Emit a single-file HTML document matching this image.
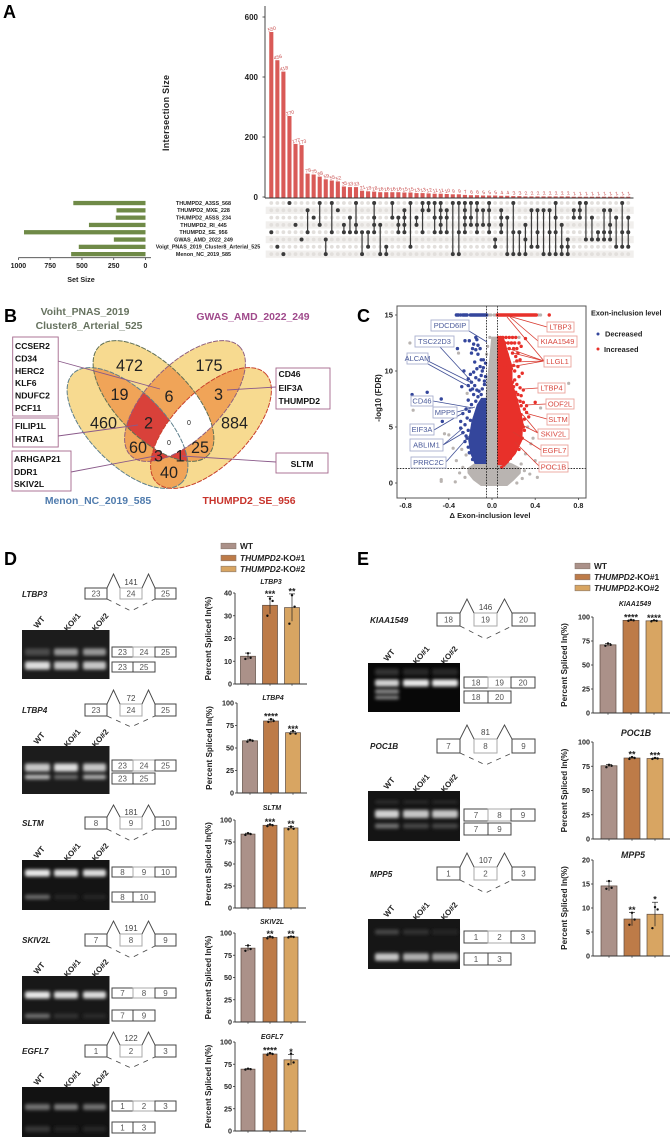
<!DOCTYPE html>
<html lang="en">
<head>
<meta charset="utf-8">
<title>Multi-panel exon inclusion figure</title>
<style>
html,body{margin:0;padding:0;background:#fff;}
svg{display:block;filter:blur(0.3px);}
text{font-family:"Liberation Sans",Arial,sans-serif;}
</style>
</head>
<body>
<svg id="fig" width="672" height="1138" viewBox="0 0 672 1138" xmlns="http://www.w3.org/2000/svg">
  <defs>
    <filter id="bandBlur" x="-30%" y="-200%" width="160%" height="500%"><feGaussianBlur stdDeviation="1.5"/></filter>
    <clipPath id="cM"><ellipse cx="127.5" cy="428" rx="77" ry="37" transform="rotate(45 127.5 428)"/></clipPath>
    <clipPath id="cV"><ellipse cx="153.5" cy="401" rx="77" ry="37" transform="rotate(45 153.5 401)"/></clipPath>
    <clipPath id="cG"><ellipse cx="185" cy="401" rx="77" ry="37" transform="rotate(-45 185 401)"/></clipPath>
    <clipPath id="cT"><ellipse cx="211" cy="428" rx="77" ry="37" transform="rotate(-45 211 428)"/></clipPath>
    <clipPath id="volcanoClip"><rect x="397" y="306" width="189" height="192"/></clipPath>
  </defs>

  <!-- Panel letters -->
  <text x="3" y="18" font-size="18" font-weight="700">A</text>
  <text x="4" y="322" font-size="18" font-weight="700">B</text>
  <text x="357" y="322" font-size="18" font-weight="700">C</text>
  <text x="4" y="565" font-size="18" font-weight="700">D</text>
  <text x="357" y="565" font-size="18" font-weight="700">E</text>

  <!-- Panel B Venn -->
  <g id="venn">
    <g fill="#f7da90">
      <ellipse cx="127.5" cy="428" rx="77" ry="37" transform="rotate(45 127.5 428)"/>
      <ellipse cx="153.5" cy="401" rx="77" ry="37" transform="rotate(45 153.5 401)"/>
      <ellipse cx="185" cy="401" rx="77" ry="37" transform="rotate(-45 185 401)"/>
      <ellipse cx="211" cy="428" rx="77" ry="37" transform="rotate(-45 211 428)"/>
    </g>
    <g fill="#f0a458">
      <g clip-path="url(#cV)"><ellipse cx="127.5" cy="428" rx="77" ry="37" transform="rotate(45 127.5 428)"/><ellipse cx="185" cy="401" rx="77" ry="37" transform="rotate(-45 185 401)"/><ellipse cx="211" cy="428" rx="77" ry="37" transform="rotate(-45 211 428)"/></g>
      <g clip-path="url(#cG)"><ellipse cx="127.5" cy="428" rx="77" ry="37" transform="rotate(45 127.5 428)"/><ellipse cx="211" cy="428" rx="77" ry="37" transform="rotate(-45 211 428)"/></g>
      <g clip-path="url(#cT)"><ellipse cx="127.5" cy="428" rx="77" ry="37" transform="rotate(45 127.5 428)"/></g>
    </g>
    <g fill="#d9413a">
      <g clip-path="url(#cV)"><g clip-path="url(#cG)"><ellipse cx="127.5" cy="428" rx="77" ry="37" transform="rotate(45 127.5 428)"/></g></g>
      <g clip-path="url(#cM)"><g clip-path="url(#cG)"><ellipse cx="211" cy="428" rx="77" ry="37" transform="rotate(-45 211 428)"/></g></g>
      <g clip-path="url(#cM)"><g clip-path="url(#cV)"><ellipse cx="211" cy="428" rx="77" ry="37" transform="rotate(-45 211 428)"/></g></g>
    </g>
    <g fill="#ffffff">
      <g clip-path="url(#cV)"><g clip-path="url(#cG)"><ellipse cx="211" cy="428" rx="77" ry="37" transform="rotate(-45 211 428)"/></g></g>
    </g>
    <g fill="none" stroke-width="1" stroke-dasharray="5 1.2">
      <ellipse cx="127.5" cy="428" rx="77" ry="37" transform="rotate(45 127.5 428)" stroke="#5d7f8c"/>
      <ellipse cx="153.5" cy="401" rx="77" ry="37" transform="rotate(45 153.5 401)" stroke="#5f6f55"/>
      <ellipse cx="185" cy="401" rx="77" ry="37" transform="rotate(-45 185 401)" stroke="#8f5f7f"/>
      <ellipse cx="211" cy="428" rx="77" ry="37" transform="rotate(-45 211 428)" stroke="#c8402c"/>
    </g>
    <g text-anchor="middle" font-size="16.2" fill="#222">
      <text x="129.5" y="371">472</text><text x="209" y="371">175</text><text x="119.5" y="400">19</text>
      <text x="169" y="402">6</text><text x="218.5" y="400">3</text><text x="103.5" y="428.5">460</text>
      <text x="148.5" y="428.5">2</text><text x="234.5" y="428.5">884</text><text x="138" y="453">60</text>
      <text x="200" y="453">25</text><text x="158.5" y="461.5">3</text><text x="180" y="461.5">1</text>
      <text x="169" y="478">40</text>
      <text x="189" y="425" font-size="7">0</text><text x="169" y="445" font-size="7">0</text>
    </g>
    <g font-size="10.4" font-weight="700" text-anchor="middle">
      <text x="85" y="315" fill="#66725f">Voiht_PNAS_2019</text>
      <text x="89" y="329" fill="#66725f">Cluster8_Arterial_525</text>
      <text x="253" y="320" fill="#a04a8c">GWAS_AMD_2022_249</text>
      <text x="98" y="504" fill="#4f7bad">Menon_NC_2019_585</text>
      <text x="249" y="504" fill="#c8342c">THUMPD2_SE_956</text>
    </g>
    <g stroke="#8a5a8a" stroke-width="0.9" fill="none">
      <line x1="58" y1="361" x2="160" y2="389"/>
      <line x1="58" y1="436" x2="138" y2="425"/>
      <line x1="71" y1="472" x2="155" y2="456"/>
      <line x1="276" y1="387" x2="227" y2="390"/>
      <line x1="276" y1="462" x2="182" y2="456"/>
    </g>
    <g fill="#fff" stroke="#a4668c" stroke-width="0.9">
      <rect x="12.7" y="337" width="45.5" height="79"/>
      <rect x="12.7" y="418" width="45.5" height="29"/>
      <rect x="12" y="451" width="59" height="40"/>
      <rect x="276" y="368" width="54" height="41"/>
      <rect x="276" y="453" width="52" height="20"/>
    </g>
    <g font-size="8.6" font-weight="700" fill="#111">
      <text x="15" y="349">CCSER2</text><text x="15" y="361.5">CD34</text><text x="15" y="374">HERC2</text>
      <text x="15" y="386">KLF6</text><text x="15" y="398.5">NDUFC2</text><text x="15" y="411">PCF11</text>
      <text x="15" y="429">FILIP1L</text><text x="15" y="442">HTRA1</text>
      <text x="14" y="462">ARHGAP21</text><text x="14" y="475">DDR1</text><text x="14" y="487">SKIV2L</text>
      <text x="278.5" y="377">CD46</text><text x="278.5" y="391">EIF3A</text><text x="278.5" y="404">THUMPD2</text>
      <text x="302" y="467" text-anchor="middle">SLTM</text>
    </g>
  </g>

  <g id="upset"></g>
  <g id="volcano"></g>
  <g id="genes"></g>
  <g id="bars"></g>
</svg>

<script>
/* ===== Panel A data ===== */
const intersectionSizes = [550,456,418,270,177,173,78,75,68,59,55,52,35,33,33,21,19,18,16,16,16,16,15,15,13,13,12,11,11,10,9,9,7,6,6,5,5,5,4,4,3,3,2,2,2,2,2,2,2,2,1,1,1,1,1,1,1,1,1,1];
const intersectionMembers = [[4],[6],[7],[0],[3],[5],[1,4],[2],[0,3],[5,7],[0,4],[1],[3,4],[2,4],[0,3,4],[4,7],[4,6],[0,2,3,4],[3,7],[6,7],[0,2],[2,3,4],[1,2,3,4],[0,6],[2,3],[0,1,4],[0,1],[0,2,4],[0,1,2,3,4],[1,2,4],[0,7],[0,4,7],[0,1,2,3,4],[0,2,3],[0,1,3,4],[1,3],[0,1,3,4],[5,6],[1,2,3,4],[2,7],[0,4,7],[4,7],[3,5,7],[1,6],[1,4,6],[1,7],[1,4,7],[0,2,4,7],[3,6,7],[5,6,7],[1,2],[0,1,2],[0,5],[2,5],[4,5],[1,4,5],[1,3,4,5],[2,6],[0,4,6],[2,4,6]];
const setNames = ["THUMPD2_A3SS_568","THUMPD2_MXE_228","THUMPD2_A5SS_234","THUMPD2_RI_445","THUMPD2_SE_956","GWAS_AMD_2022_249","Voigt_PNAS_2019_Cluster8_Arterial_525","Menon_NC_2019_585"];
const setSizes = [568,228,234,445,956,249,525,585];
const intersectionTicks = [0,200,400,600];
const setSizeTicks = [1000,750,500,250,0];

/* ===== Panel C data: [delta, -log10 FDR] ===== */
const volcanoXTicks = [-0.8,-0.4,0.0,0.4,0.8];
const volcanoYTicks = [0,5,10,15];
const grayEnvFdr = [-0.2,0.3,0.9,1.3,1.7,2.1,8,11,13];
const grayEnvLeft = [-0.1,-0.17,-0.22,-0.22,-0.16,-0.05,-0.05,-0.02,0.0];
const grayEnvRight = [0.14,0.2,0.26,0.26,0.18,0.05,0.05,0.05,0.04];
const blueEnvFdr = [1.7,2.6,3.8,5.5,7,7.6];
const blueEnvOuter = [-0.16,-0.2,-0.22,-0.19,-0.14,-0.1];
const redEnvFdr = [1.6,2.6,3.8,5.5,7,9,10.4,12,13];
const redEnvOuter = [0.13,0.22,0.28,0.29,0.25,0.19,0.19,0.14,0.11];
const grayPoints = [[-0.76,12.5],[-0.73,6.5],[0.71,8.9],[0.45,6.7],[-0.47,0.3],[-0.47,0.15],[-0.34,0.1],[-0.25,0.5],[0.35,0.8],[0.42,0.5],[0.23,0],[0.28,0.4],[-0.33,2],[0.31,2.6],[0.4,2],[-0.4,4.3],[-0.23,8],[-0.24,2.5],[-0.28,3],[0.36,3.5],[-0.31,11.6],[-0.3,0.9],[0.3,1.1],[-0.36,3.1],[-0.44,4.4],[0.33,5],[0.38,4],[-0.27,1.4],[0.27,1.7],[-0.03,15],[-0.01,15],[0.02,15],[0.03,15],[0.43,15],[0.45,15],[-0.02,13],[0.02,12.8],[-0.04,12.2],[0.04,12],[-0.05,11.5],[0.05,10.8],[0.25,13],[-0.12,6.5],[0.14,5.5],[0.1,7]];
const bluePoints = [[-0.74,7.9],[-0.6,8.1],[-0.47,7.5],[-0.46,5.5],[-0.32,12],[-0.25,12.7],[-0.21,12.7],[-0.15,13],[-0.14,12.8],[-0.17,12.4],[-0.13,12.3],[-0.18,12],[-0.15,11.9],[-0.11,12],[-0.19,11.6],[-0.13,11.5],[-0.1,11],[-0.08,11],[-0.16,10.8],[-0.06,10.7],[-0.11,10.4],[-0.26,10],[-0.2,9.7],[-0.17,9.9],[-0.09,10],[-0.22,9.3],[-0.15,9.4],[-0.06,9.5],[-0.12,9.2],[-0.19,9],[-0.28,8.6],[-0.22,8.7],[-0.16,8.7],[-0.07,8.8],[-0.2,8.3],[-0.12,8.2],[-0.09,8.4],[-0.17,7.9],[-0.13,7.7],[-0.22,7.4],[-0.15,7.3],[-0.19,7],[-0.27,6.2],[-0.24,6.6],[-0.21,6.4],[-0.29,5.5],[-0.25,5.2],[-0.23,5.8],[-0.29,4.9],[-0.27,4.5],[-0.24,4.2],[-0.22,4.7],[-0.25,3.7],[-0.22,3.2],[-0.21,2.7],[-0.18,2.1],[-0.15,1.9],[-0.23,4],[-0.2,5.6],[-0.1,7.9],[-0.07,7.3],[-0.14,10.2],[-0.1,9.6],[-0.07,9.1],[-0.14,8.3],[-0.18,8.4],[-0.08,10.3]];
const redPoints = [[0.53,15],[0.4,7.2],[0.32,6.9],[0.29,8.3],[0.31,12.9],[0.28,9.8],[0.32,6.3],[0.34,5.9],[0.29,5],[0.06,13],[0.08,13],[0.1,13],[0.13,13],[0.16,13],[0.19,13],[0.22,13],[0.07,12.5],[0.12,12.5],[0.15,12.5],[0.18,12.5],[0.21,12.5],[0.25,12.5],[0.27,12.2],[0.23,12],[0.2,12],[0.24,11.6],[0.22,11.3],[0.19,11.6],[0.26,11],[0.23,10.9],[0.2,10.5],[0.24,10.4],[0.21,10],[0.18,10.2],[0.25,9.5],[0.21,9.2],[0.23,8.8],[0.26,8.5],[0.2,8.6],[0.27,7.8],[0.24,7.9],[0.22,8.1],[0.29,7.2],[0.26,7.3],[0.23,7.4],[0.3,6.6],[0.27,6.9],[0.27,6.1],[0.3,5.7],[0.26,5.7],[0.28,5.2],[0.25,5],[0.3,4.7],[0.26,4.6],[0.24,4.2],[0.28,4],[0.24,3.6],[0.22,3.2],[0.25,3],[0.2,2.7],[0.17,2.2],[0.14,1.9],[0.09,1.4],[0.11,1.6],[0.13,11],[0.1,11.5],[0.08,12],[0.16,12],[0.14,11.5],[0.06,11],[0.12,10.5],[0.08,10.4],[0.16,9.8],[0.19,9],[0.18,8.3],[0.16,7.5]];
const blueTopX = [-0.33,-0.32,-0.31,-0.29,-0.27,-0.26,-0.25,-0.24,-0.23,-0.2,-0.19,-0.18,-0.17,-0.16,-0.15,-0.14,-0.13,-0.12,-0.11,-0.1,-0.09,-0.08,-0.07,-0.06,-0.05];
const redTopX = [0.05,0.06,0.07,0.08,0.09,0.1,0.11,0.12,0.13,0.14,0.15,0.16,0.17,0.18,0.19,0.2,0.21,0.22,0.23,0.24,0.25,0.26,0.27,0.28,0.29,0.3,0.31,0.32,0.33,0.34,0.35,0.36,0.37,0.38,0.39,0.4,0.41];

/* ===== Panels D/E bar chart data ===== */
const conditionColors = ["#ab9189","#bd7b48","#d8a562"];
const ltbp3Means = [12.2,34.6,33.6];
const ltbp3Sds = [1.4,3.8,6];
const ltbp3Points = [[11,11.5,13.5],[30,36.5,37.5],[26.5,34,39]];
const ltbp3Stars = ["","***","**"];
const ltbp4Means = [58,80,67];
const ltbp4Sds = [1,2,1.5];
const ltbp4Points = [[57,58,59],[79,80,82],[66,66,69]];
const ltbp4Stars = ["","****","***"];
const sltmMeans = [84,94,91];
const sltmSds = [1,1,1.5];
const sltmPoints = [[83,84,85],[93,94,95],[89.5,90,92.5]];
const sltmStars = ["","***","**"];
const skiv2lMeans = [83,95,95.5];
const skiv2lSds = [3,1,0.8];
const skiv2lPoints = [[80,82,86],[94,95,96],[95,95.5,96]];
const skiv2lStars = ["","**","**"];
const egfl7Means = [69.5,86.5,80];
const egfl7Sds = [0.5,1,6];
const egfl7Points = [[69,69.5,70],[85.5,86.5,87.5],[75,77,87]];
const egfl7Stars = ["","****","*"];
const kiaa1549Means = [71,96.5,96];
const kiaa1549Sds = [1.5,0.5,0.5];
const kiaa1549Points = [[70,71,72.5],[96,96.5,97],[95.5,96,96.5]];
const kiaa1549Stars = ["","****","****"];
const poc1bMeans = [75.5,83.5,83];
const poc1bSds = [1.2,0.8,0.5];
const poc1bPoints = [[74,75.5,76.5],[82.5,83.5,84.5],[82.5,83,83.5]];
const poc1bStars = ["","**","***"];
const mpp5Means = [14.6,7.7,8.7];
const mpp5Sds = [1,1.4,2.5];
const mpp5Points = [[14,14.2,15.6],[6.5,7.6,9],[5.8,9.7,10.2]];
const mpp5Stars = ["","**","*"];
const percentTicks = [0,25,50,75,100];
const ltbp3Ticks = [0,10,20,30,40];
const mpp5Ticks = [0,5,10,15,20];

/* ===== helpers ===== */
const NS = "http://www.w3.org/2000/svg";
function mk(tag, attrs, parent, txt) {
  const n = document.createElementNS(NS, tag);
  for (const k in attrs) n.setAttribute(k, attrs[k]);
  if (txt !== undefined) n.textContent = txt;
  parent.appendChild(n);
  return n;
}
let el;

/* ===== Panel A ===== */
(function () {
  const root = document.getElementById("upset");
  const colX = i => 271.3 + 6.05 * i;
  const rowY = r => 203 + 7.3 * r;
  const sizeY = v => 197 - 0.3 * v;
  const setX = v => 145.5 - 0.1271 * v;

  el = mk("line", {x1:265,y1:6,x2:265,y2:198,stroke:"#333","stroke-width":0.9}, root);
  
  
  el = mk("line", {x1:265,y1:198,x2:633.5,y2:198,stroke:"#333","stroke-width":0.9}, root);
  
  

  intersectionTicks.forEach(t => {
    el = mk("line", {x1:262.5,x2:265,y1:sizeY(t),y2:sizeY(t),stroke:"#333","stroke-width":0.8}, root);
    
    
    el = mk("text", {x:258,y:sizeY(t)+3,"text-anchor":"end","font-size":8,"font-weight":700,fill:"#222"}, root, t);
    
    
  });
  el = mk("text", {x:169,y:113,"text-anchor":"middle","font-size":9,"font-weight":700,fill:"#222",transform:"rotate(-90 169 113)",textLength:76}, root, "Intersection Size");
  
  

  setNames.forEach((s, r) => {
    if (r % 2 === 1) {
      el = mk("rect", {x:265.7,y:rowY(r)-3.6,width:368,height:7.3,fill:"#f1efed"}, root);
      
      
    }
    el = mk("rect", {x:setX(setSizes[r]),y:rowY(r)-2.1,width:setX(0)-setX(setSizes[r]),height:4.3,fill:"#6f8a47"}, root);
    
    
    el = mk("text", {x:r===6?208:203.5,y:rowY(r)+1.9,"text-anchor":"middle","font-size":5.4,"font-weight":700,fill:"#222"}, root, s);
    
    
  });

  el = mk("line", {x1:setX(1000),x2:151,y1:257.7,y2:257.7,stroke:"#444","stroke-width":0.8}, root);
  
  
  setSizeTicks.forEach(t => {
    el = mk("line", {x1:setX(t),x2:setX(t),y1:257.7,y2:260,stroke:"#444","stroke-width":0.8}, root);
    
    
    el = mk("text", {x:setX(t),y:268,"text-anchor":"middle","font-size":7,"font-weight":700,fill:"#222"}, root, t);
    
    
  });
  el = mk("text", {x:81,y:282,"text-anchor":"middle","font-size":7.2,"font-weight":700,fill:"#222"}, root, "Set Size");
  
  

  intersectionSizes.forEach((v, i) => {
    const x = colX(i);
    el = mk("rect", {x:x-2.05,y:sizeY(v),width:4.1,height:197.5-sizeY(v),fill:"#d95a57"}, root);
    
    
    const ly = sizeY(v) - 1.5;
    el = mk("text", {x:x+1,y:ly,"text-anchor":"middle","font-size":5,fill:"#c74a4a",transform:"rotate(-15 "+(x+1)+" "+ly+")"}, root, v);
    
    
    setNames.forEach((s, r) => {
      el = mk("circle", {cx:x,cy:rowY(r),r:1.9,fill:"#e2dfdc"}, root);
      
      
    });
    const m = intersectionMembers[i];
    if (m.length > 1) {
      el = mk("line", {x1:x,x2:x,y1:rowY(m[0]),y2:rowY(m[m.length-1]),stroke:"#3b3b3b","stroke-width":1.2}, root);
      
      
    }
    m.forEach(r => {
      el = mk("circle", {cx:x,cy:rowY(r),r:2,fill:"#3b3b3b"}, root);
      
      
    });
  });
})();

/* ===== Panel C ===== */
(function () {
  const root = document.getElementById("volcano");
  const vx = v => 492 + 108 * v;
  const vy = f => 483 - 11.2 * f;
  const clipG = mk("g", {"clip-path":"url(#volcanoClip)"}, root);
  
  

  const grayPath = grayEnvFdr.map((f,i)=>vx(grayEnvLeft[i])+","+vy(f)).concat(grayEnvFdr.map((f,i)=>vx(grayEnvRight[i])+","+vy(f)).reverse()).join(" ");
  el = mk("polygon", {points:grayPath,fill:"#b9b4b1","stroke":"#b9b4b1","stroke-width":1.5,"stroke-linejoin":"round"}, clipG);
  
  
  grayPoints.forEach(p => {
    el = mk("circle", {cx:vx(p[0]),cy:vy(p[1]),r:1.6,fill:"#b9b4b1"}, clipG);
    
    
  });

  const bluePath = blueEnvFdr.map((f,i)=>vx(blueEnvOuter[i])+","+vy(f)).concat([vx(-0.05)+","+vy(7.6),vx(-0.05)+","+vy(1.7)]).join(" ");
  el = mk("polygon", {points:bluePath,fill:"#34469c"}, clipG);
  
  
  bluePoints.forEach(p => {
    el = mk("circle", {cx:vx(p[0]),cy:vy(p[1]),r:1.7,fill:"#34469c"}, clipG);
    
    
  });
  blueTopX.forEach(x => {
    el = mk("circle", {cx:vx(x),cy:vy(15),r:1.7,fill:"#34469c"}, clipG);
    
    
  });

  const redPath = redEnvFdr.map((f,i)=>vx(redEnvOuter[i])+","+vy(f)).concat([vx(0.05)+","+vy(13),vx(0.05)+","+vy(1.6)]).join(" ");
  el = mk("polygon", {points:redPath,fill:"#e8302a"}, clipG);
  
  
  redPoints.forEach(p => {
    el = mk("circle", {cx:vx(p[0]),cy:vy(p[1]),r:1.7,fill:"#e8302a"}, clipG);
    
    
  });
  redTopX.forEach(x => {
    el = mk("circle", {cx:vx(x),cy:vy(15),r:1.7,fill:"#e8302a"}, clipG);
    
    
  });

  [-0.05,0.05].forEach(v => {
    el = mk("line", {x1:vx(v),x2:vx(v),y1:306,y2:498,stroke:"#111","stroke-width":0.8,"stroke-dasharray":"1.6 1.2"}, root);
    
    
  });
  el = mk("line", {x1:397,x2:586,y1:vy(1.3),y2:vy(1.3),stroke:"#111","stroke-width":0.8,"stroke-dasharray":"1.6 1.2"}, root);
  
  

  el = mk("rect", {x:397,y:306,width:189,height:192,fill:"none",stroke:"#555","stroke-width":1}, root);
  
  

  volcanoXTicks.forEach(t => {
    el = mk("line", {x1:vx(t),x2:vx(t),y1:498,y2:500,stroke:"#444","stroke-width":0.8}, root);
    
    
    el = mk("text", {x:vx(t),y:508,"text-anchor":"middle","font-size":7.2,"font-weight":700,fill:"#222"}, root, t.toFixed(1));
    
    
  });
  volcanoYTicks.forEach(t => {
    el = mk("line", {x1:395,x2:397,y1:vy(t),y2:vy(t),stroke:"#444","stroke-width":0.8}, root);
    
    
    el = mk("text", {x:393,y:vy(t)+2.6,"text-anchor":"end","font-size":7.6,"font-weight":700,fill:"#222"}, root, t);
    
    
  });
  el = mk("text", {x:381,y:398,"text-anchor":"middle","font-size":8,"font-weight":700,fill:"#222",transform:"rotate(-90 381 398)"}, root, "-log10 (FDR)");
  
  
  el = mk("text", {x:490,y:518,"text-anchor":"middle","font-size":7.6,"font-weight":700,fill:"#222"}, root, "\u0394 Exon-inclusion level");
  
  

  el = mk("text", {x:591,y:315.5,"font-size":7.3,"font-weight":700,fill:"#222"}, root, "Exon-inclusion level");
  
  
  el = mk("circle", {cx:598,cy:334,r:1.5,fill:"#34469c"}, root);
  
  
  el = mk("text", {x:605,y:336.7,"font-size":7.4,"font-weight":700,fill:"#222"}, root, "Decreased");
  
  
  el = mk("circle", {cx:598,cy:349,r:1.5,fill:"#e8302a"}, root);
  
  
  el = mk("text", {x:604,y:352,"font-size":7.4,"font-weight":700,fill:"#222"}, root, "Increased");
  
  

  const blueCallouts = [
    ["PDCD6IP",431,320,38,11,[[469,331,487,342]]],
    ["TSC22D3",415,336,39,11,[[440,347,473,383]]],
    ["ALCAM",407,353,21,11,[[428,364,470,387],[428,361,472,383]]],
    ["CD46",411,396,22,10,[[433,401,473,408]]],
    ["MPP5",433,407,24,11,[[457,412,475,407]]],
    ["EIF3A",410,424,24,11,[[434,430,463,413]]],
    ["ABLIM1",410,439,33,12,[[443,445,463,428],[443,445,465,432]]],
    ["PRRC2C",411,457,35,11,[[446,462,470,435]]]
  ];
  const redCallouts = [
    ["LTBP3",547,322,27,10,[[547,327,505,315]]],
    ["KIAA1549",538,336,39,11,[[538,341,510,317]]],
    ["LLGL1",544,356,27,11,[[544,361,507,317],[544,361,507,348],[544,361,513,353],[544,361,513,362],[544,361,510,367]]],
    ["LTBP4",538,383,27,10,[[538,388,523,389]]],
    ["ODF2L",546,399,28,10,[[546,404,525,405]]],
    ["SLTM",547,414,22,11,[[547,419,525,413]]],
    ["SKIV2L",538,429,31,10,[[538,433,523,415],[538,433,522,425]]],
    ["EGFL7",541,445,27,11,[[541,450,513,432]]],
    ["POC1B",539,462,29,10,[[539,466,515,442]]]
  ];
  [[blueCallouts,"#3f4f96","#4a5a9a","#a9b0cf"],[redCallouts,"#d83a30","#d8483f","#eba39d"]].forEach(group => {
    group[0].forEach(c => {
      c[5].forEach(l => {
        el = mk("line", {x1:l[0],y1:l[1],x2:l[2],y2:l[3],stroke:group[1],"stroke-width":0.8}, root);
        
        
      });
    });
    group[0].forEach(c => {
      el = mk("rect", {x:c[1],y:c[2],width:c[3],height:c[4],fill:"#fff","fill-opacity":0.92,stroke:group[3],"stroke-width":0.9}, root);
      
      
      el = mk("text", {x:c[1]+c[3]/2,y:c[2]+c[4]/2+2.7,"text-anchor":"middle","font-size":7.5,fill:group[2]}, root, c[0]);
      
      
    });
  });
})();

/* ===== Panels D/E: exon schematics and gels ===== */
(function () {
  const root = document.getElementById("genes");
  const D = {nameX:22, b:[85,107,120,142,155,176], leg:[112,133,155,176], labX:[39,72,100], gelX:22, gelW:87.5, lanes:[[25,50],[54,78],[83,106]]};
  const E = {nameX:370, b:[437,460,474,497,512,535], leg:[464,488,511,535], labX:[389,421,449], gelX:368, gelW:92, lanes:[[375,399],[403,429],[432,458]]};
  const panels = [
    {p:D,gene:"LTBP3",nameY:597,top:588,bot:599,peak:574,num:"141",numY:585,dash:611,ex:["23","24","25"],gelY:630,gelH:49,r1:[647,657],r2:[662,672],bg:"#1c1c1c",
      bands:[{y:652,h:7,b:[0.22,0.55,0.55]},{y:665.5,h:8,b:[0.85,0.75,0.75]}]},
    {p:D,gene:"LTBP4",nameY:713,top:704,bot:716,peak:690,num:"72",numY:701,dash:727,ex:["23","24","25"],gelY:746,gelH:48,r1:[760,771],r2:[773,784],bg:"#1c1c1c",
      bands:[{y:767.5,h:8,b:[0.75,0.85,0.75]},{y:777,h:4.5,b:[0.7,0.35,0.65]}]},
    {p:D,gene:"SLTM",nameY:826,top:817,bot:829,peak:805,num:"181",numY:815,dash:841,ex:["8","9","10"],gelY:860,gelH:50,r1:[867,877],r2:[892,902],bg:"#141414",
      bands:[{y:873,h:7,b:[0.9,0.85,0.85]},{y:897,h:4.5,b:[0.35,0.05,0.05]}]},
    {p:D,gene:"SKIV2L",nameY:943,top:934,bot:946,peak:921,num:"191",numY:931,dash:958,ex:["7","8","9"],gelY:976,gelH:48,r1:[988,998],r2:[1010,1021],bg:"#181818",
      bands:[{y:995,h:7,b:[0.9,0.85,0.85]},{y:1016,h:4.5,b:[0.38,0.12,0.08]}]},
    {p:D,gene:"EGFL7",nameY:1054,top:1045,bot:1057,peak:1032,num:"122",numY:1041,dash:1068,ex:["1","2","3"],gelY:1087,gelH:50,r1:[1101,1111],r2:[1122,1133],bg:"#121212",
      bands:[{y:1107,h:6,b:[0.38,0.42,0.38]},{y:1129,h:5.5,b:[0.13,0.03,0.05]}]},
    {p:E,gene:"KIAA1549",nameY:623,top:613,bot:626,peak:599,num:"146",numY:610,dash:639,ex:["18","19","20"],gelY:663,gelH:49,r1:[677,688],r2:[691,703],bg:"#080808",
      bands:[{y:683,h:7,b:[0.8,0.9,0.9]},{y:691.5,h:5,b:[0.45,0,0]},{y:697.5,h:3.5,b:[0.5,0,0]},{y:672,h:7,b:[0.1,0.05,0.05]}]},
    {p:E,gene:"POC1B",nameY:749,top:739,bot:753,peak:725,num:"81",numY:735,dash:765,ex:["7","8","9"],gelY:791,gelH:50,r1:[809,821],r2:[823,835],bg:"#141414",
      bands:[{y:814,h:8,b:[0.8,0.75,0.75]},{y:826,h:5,b:[0.38,0.2,0.2]},{y:802,h:3,b:[0.1,0.08,0.08]}]},
    {p:E,gene:"MPP5",nameY:877,top:867,bot:880,peak:853,num:"107",numY:863,dash:893,ex:["1","2","3"],gelY:919,gelH:50,r1:[931,943],r2:[953,965],bg:"#161616",
      bands:[{y:932,h:5,b:[0.2,0.1,0.06]},{y:957,h:7.5,b:[0.75,0.65,0.6]}]}
  ];
  const outer = "#444", inner = "#aaa";
  panels.forEach(g => {
    const P = g.p, b = P.b;
    el = mk("text", {x:P.nameX,y:g.nameY,"font-size":8.2,"font-weight":700,"font-style":"italic",fill:"#222"}, root, g.gene);
    
    
    [[0,1,outer],[2,3,inner],[4,5,outer]].forEach((s, i) => {
      el = mk("rect", {x:b[s[0]],y:g.top,width:b[s[1]]-b[s[0]],height:g.bot-g.top,fill:"#fff",stroke:s[2],"stroke-width":1}, root);
      
      
      el = mk("text", {x:(b[s[0]]+b[s[1]])/2,y:(g.top+g.bot)/2+2.9,"text-anchor":"middle","font-size":8,fill:"#555"}, root, g.ex[i]);
      
      
    });
    el = mk("polyline", {points:b[1]+","+g.top+" "+(b[1]+b[2])/2+","+g.peak+" "+b[2]+","+g.top+" ",fill:"none",stroke:"#444","stroke-width":0.9}, root);
    
    
    el = mk("polyline", {points:b[3]+","+g.top+" "+(b[3]+b[4])/2+","+g.peak+" "+b[4]+","+g.top+" ",fill:"none",stroke:"#444","stroke-width":0.9}, root);
    
    
    el = mk("polyline", {points:b[1]+","+g.bot+" "+(b[2]+b[3])/2+","+g.dash+" "+b[4]+","+g.bot,fill:"none",stroke:"#444","stroke-width":0.8,"stroke-dasharray":"5 5"}, root);
    
    
    el = mk("text", {x:(b[2]+b[3])/2,y:g.numY,"text-anchor":"middle","font-size":8,fill:"#444"}, root, g.num);
    
    

    ["WT","KO#1","KO#2"].forEach((t, i) => {
      const lx = P.labX[i], ly = g.gelY - 8;
      el = mk("text", {x:lx,y:ly+3,"text-anchor":"middle","font-size":8,"font-weight":700,fill:"#222",transform:"rotate(-50 "+lx+" "+ly+")"}, root, t);
      
      
    });
    el = mk("rect", {x:P.gelX,y:g.gelY,width:P.gelW,height:g.gelH,fill:g.bg}, root);
    
    
    g.bands.forEach(bd => {
      P.lanes.forEach((l, i) => {
        if (bd.b[i] <= 0) return;
        const c = Math.round(25 + 230 * bd.b[i]);
        el = mk("rect", {x:l[0],y:bd.y-bd.h/2,width:l[1]-l[0],height:bd.h,rx:2,fill:"rgb("+c+","+c+","+c+")",filter:"url(#bandBlur)"}, root);
        
        
      });
    });
    const L = P.leg;
    [[L[0],L[1],outer,0],[L[1],L[2],inner,1],[L[2],L[3],outer,2]].forEach(s => {
      el = mk("rect", {x:s[0],y:g.r1[0],width:s[1]-s[0],height:g.r1[1]-g.r1[0],fill:"#fff",stroke:s[2],"stroke-width":1}, root);
      
      
      el = mk("text", {x:(s[0]+s[1])/2,y:(g.r1[0]+g.r1[1])/2+2.9,"text-anchor":"middle","font-size":8,fill:"#555"}, root, g.ex[s[3]]);
      
      
    });
    [[L[0],L[1],0],[L[1],L[2],2]].forEach(s => {
      el = mk("rect", {x:s[0],y:g.r2[0],width:s[1]-s[0],height:g.r2[1]-g.r2[0],fill:"#fff",stroke:outer,"stroke-width":1}, root);
      
      
      el = mk("text", {x:(s[0]+s[1])/2,y:(g.r2[0]+g.r2[1])/2+2.9,"text-anchor":"middle","font-size":8,fill:"#555"}, root, g.ex[s[2]]);
      
      
    });
  });
})();

/* ===== Panels D/E: bar charts ===== */
(function () {
  const root = document.getElementById("bars");
  const charts = [
    {title:"LTBP3",means:ltbp3Means,sds:ltbp3Sds,pts:ltbp3Points,stars:ltbp3Stars,ticks:ltbp3Ticks,max:40,ax:235,end:307,top:593,bot:684,c:[248,270,292],w:15,tx:271,ty:584,fs:6.9,yt:211},
    {title:"LTBP4",means:ltbp4Means,sds:ltbp4Sds,pts:ltbp4Points,stars:ltbp4Stars,ticks:percentTicks,max:100,ax:237,end:307,top:703,bot:793,c:[250,271,293],w:15,tx:273,ty:700,fs:6.9,yt:212},
    {title:"SLTM",means:sltmMeans,sds:sltmSds,pts:sltmPoints,stars:sltmStars,ticks:percentTicks,max:100,ax:235,end:306,top:820,bot:908,c:[248,270,291],w:14,tx:272,ty:810,fs:6.9,yt:211},
    {title:"SKIV2L",means:skiv2lMeans,sds:skiv2lSds,pts:skiv2lPoints,stars:skiv2lStars,ticks:percentTicks,max:100,ax:235,end:306,top:933,bot:1022,c:[248,270,291],w:14,tx:272,ty:924,fs:6.9,yt:211},
    {title:"EGFL7",means:egfl7Means,sds:egfl7Sds,pts:egfl7Points,stars:egfl7Stars,ticks:percentTicks,max:100,ax:235,end:306,top:1042,bot:1131,c:[248,270,291],w:14,tx:272,ty:1039,fs:6.9,yt:211},
    {title:"KIAA1549",means:kiaa1549Means,sds:kiaa1549Sds,pts:kiaa1549Points,stars:kiaa1549Stars,ticks:percentTicks,max:100,ax:593,end:670,top:617,bot:713,c:[608,631,654],w:16,tx:635,ty:606,fs:6.9,yt:567},
    {title:"POC1B",means:poc1bMeans,sds:poc1bSds,pts:poc1bPoints,stars:poc1bStars,ticks:percentTicks,max:100,ax:593,end:670,top:742,bot:839,c:[609,632,655],w:16,tx:636,ty:736,fs:8.8,yt:567},
    {title:"MPP5",means:mpp5Means,sds:mpp5Sds,pts:mpp5Points,stars:mpp5Stars,ticks:mpp5Ticks,max:20,ax:593,end:670,top:860,bot:956,c:[609,632,655],w:16,tx:633,ty:858,fs:8.8,yt:567}
  ];
  charts.forEach(ch => {
    const y = v => ch.bot - (ch.bot - ch.top) * v / ch.max;
    el = mk("text", {x:ch.tx,y:ch.ty,"text-anchor":"middle","font-size":ch.fs,"font-weight":700,"font-style":"italic",fill:"#222"}, root, ch.title);
    
    
    ch.means.forEach((m, i) => {
      const x = ch.c[i];
      el = mk("rect", {x:x-ch.w/2,y:y(m),width:ch.w,height:ch.bot-y(m),fill:conditionColors[i],stroke:"#5d4c42","stroke-width":0.7}, root);
      
      
      const hi = y(m + ch.sds[i]), lo = y(m - ch.sds[i]);
      el = mk("line", {x1:x,x2:x,y1:hi,y2:lo,stroke:"#222","stroke-width":0.7}, root);
      
      
      el = mk("line", {x1:x-3,x2:x+3,y1:hi,y2:hi,stroke:"#222","stroke-width":0.7}, root);
      
      
      const off = [-2.6,2.6,0];
      ch.pts[i].forEach((p, j) => {
        el = mk("circle", {cx:x+off[j],cy:y(p),r:1.2,fill:"#111"}, root);
        
        
      });
      if (ch.stars[i]) {
        el = mk("text", {x:x,y:hi+0.5,"text-anchor":"middle","font-size":9,"font-weight":700,fill:"#222"}, root, ch.stars[i]);
        
        
      }
      el = mk("line", {x1:x,x2:x,y1:ch.bot,y2:ch.bot+1.8,stroke:"#333","stroke-width":0.7}, root);
      
      
    });
    el = mk("line", {x1:ch.ax,x2:ch.ax,y1:ch.top,y2:ch.bot,stroke:"#333","stroke-width":0.9}, root);
    
    
    el = mk("line", {x1:ch.ax,x2:ch.end,y1:ch.bot,y2:ch.bot,stroke:"#333","stroke-width":0.9}, root);
    
    
    ch.ticks.forEach(t => {
      el = mk("line", {x1:ch.ax-2,x2:ch.ax,y1:y(t),y2:y(t),stroke:"#333","stroke-width":0.8}, root);
      
      
      el = mk("text", {x:ch.ax-3,y:y(t)+2.6,"text-anchor":"end","font-size":7.2,"font-weight":700,fill:"#222"}, root, t);
      
      
    });
    const mid = (ch.top + ch.bot) / 2;
    el = mk("text", {x:ch.yt,y:mid,"text-anchor":"middle","font-size":8.2,"font-weight":700,fill:"#222",transform:"rotate(-90 "+ch.yt+" "+mid+")"}, root, "Percent Spliced In(%)");
    
    
  });

  [[221,240,[546,558,569]],[575,594,[566,577,588]]].forEach(leg => {
    ["WT","THUMPD2","THUMPD2"].forEach((t, i) => {
      el = mk("rect", {x:leg[0],y:leg[2][i]-2.8,width:15,height:5.6,fill:conditionColors[i],stroke:"#8a7a70","stroke-width":0.6}, root);
      
      
      const tx = mk("text", {x:leg[1],y:leg[2][i]+3,"font-size":8.4,"font-weight":700,fill:"#222"}, root);
      
      
      if (i === 0) { tx.textContent = "WT"; }
      else {
        mk("tspan", {"font-style":"italic"}, tx, "THUMPD2");
        mk("tspan", {}, tx, "-KO#" + i);
      }
    });
  });
})();
</script>
</body>
</html>
